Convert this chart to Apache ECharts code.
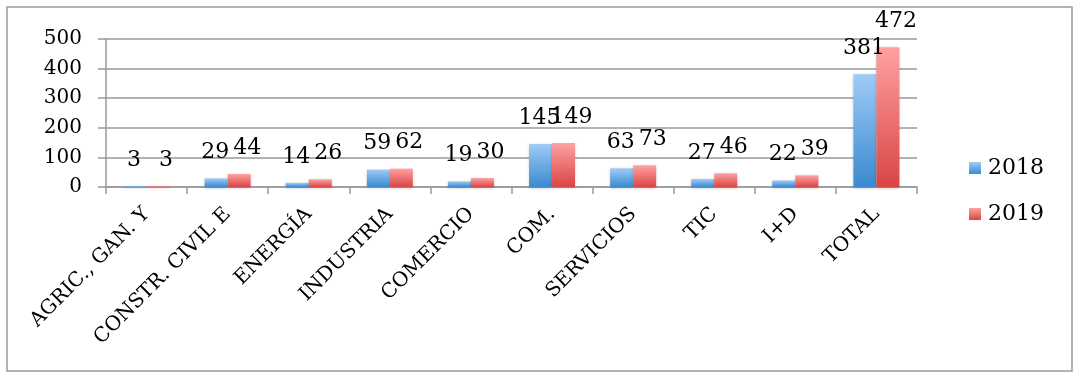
<!DOCTYPE html>
<html>
<head>
<meta charset="utf-8">
<script src="https://cdn.jsdelivr.net/npm/echarts@6/dist/echarts.min.js"></script>
<style>
html,body{margin:0;padding:0;background:#fff;}
#c{width:1085px;height:379px;}
</style>
</head>
<body>
<div id="c"></div>
<script>
const categories = ['AGRIC., GAN. Y', 'CONSTR. CIVIL E', 'ENERGÍA', 'INDUSTRIA', 'COMERCIO', 'COM.', 'SERVICIOS', 'TIC', 'I+D', 'TOTAL'];
const values2018 = [3, 29, 14, 59, 19, 145, 63, 27, 22, 381];
const values2019 = [3, 44, 26, 62, 30, 149, 73, 46, 39, 472];
const yTicks = [0, 100, 200, 300, 400, 500];

const FONT = '"DejaVu Serif", "Liberation Serif", serif';
function grad(top, bottom) {
  return new echarts.graphic.LinearGradient(0, 0, 0, 1, [
    {offset: 0, color: top}, {offset: 1, color: bottom}
  ]);
}
const blue = grad('#9fcbf7', '#3a89d0');
const red = grad('#ffa1a1', '#d94545');

const chart = echarts.init(document.getElementById('c'), null, {renderer: 'canvas'});
chart.setOption({
  animation: false,
  backgroundColor: '#fff',
  textStyle: {fontFamily: FONT, color: '#000'},
  graphic: [{
    type: 'rect', shape: {x: 7, y: 7, width: 1065, height: 364},
    style: {fill: 'none', stroke: '#9a9a9a', lineWidth: 1.5}, silent: true, z: -1
  }],
  grid: {left: 106, right: 168, top: 39, bottom: 192, containLabel: false},
  legend: {
    orient: 'vertical', left: 964, top: 152, itemGap: 24,
    itemWidth: 12, itemHeight: 12, icon: 'rect',
    textStyle: {fontFamily: FONT, fontSize: 22, color: '#000', padding: [0, 0, 0, 2]},
    data: ['2018', '2019']
  },
  xAxis: {
    type: 'category', data: categories,
    axisLine: {lineStyle: {color: '#999', width: 1.5}},
    axisTick: {show: true, length: 7, lineStyle: {color: '#999', width: 1.5}},
    axisLabel: {rotate: 45, fontSize: 20, fontFamily: FONT, color: '#000', margin: 24, interval: 0}
  },
  yAxis: {
    type: 'value', min: yTicks[0], max: yTicks[yTicks.length - 1], interval: 100,
    axisLine: {show: true, lineStyle: {color: '#999', width: 1.5}},
    axisTick: {show: true, length: 8, lineStyle: {color: '#999', width: 1.5}},
    splitLine: {show: true, lineStyle: {color: '#999', width: 1.5}},
    axisLabel: {fontSize: 20, fontFamily: FONT, color: '#000', margin: 24}
  },
  series: [
    {
      name: '2018', type: 'bar', data: values2018,
      barWidth: 23, barGap: '0%',
      itemStyle: {color: blue, shadowBlur: 3, shadowColor: 'rgba(0,0,0,0.25)', shadowOffsetY: 1},
      label: {show: true, position: 'top', distance: 15, fontSize: 22, fontFamily: FONT, color: '#000', offset: [-1, 0]}
    },
    {
      name: '2019', type: 'bar', data: values2019,
      barWidth: 23, barGap: '0%',
      itemStyle: {color: red, shadowBlur: 3, shadowColor: 'rgba(0,0,0,0.25)', shadowOffsetY: 1},
      label: {show: true, position: 'top', distance: 15, fontSize: 22, fontFamily: FONT, color: '#000', offset: [8, 0]}
    }
  ]
});
</script>
</body>
</html>
